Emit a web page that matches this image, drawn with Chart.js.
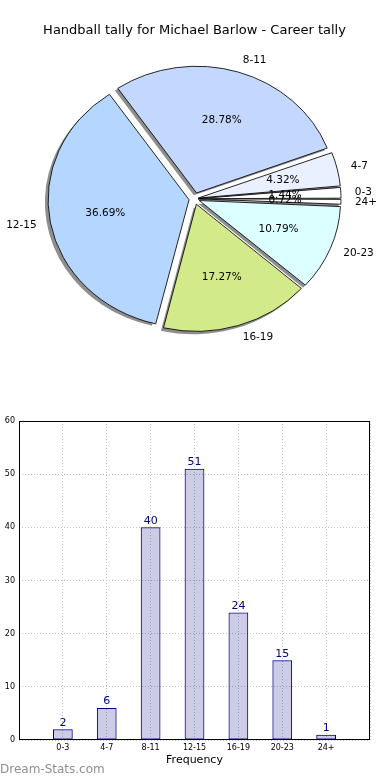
<!DOCTYPE html>
<html lang="en">
<head>
<meta charset="UTF-8">
<title>Handball tally for Michael Barlow</title>
<script src="https://cdn.jsdelivr.net/npm/chart.js@4.4.0/dist/chart.umd.min.js"></script>
<style>
  body { margin: 0; background: #fff; }
  .wrap { position: relative; width: 390px; height: 780px; }
  #pieChart { position: absolute; left: 0; top: 0; }
  #barChart { position: absolute; left: 0; top: 400px; }
</style>
</head>
<body>
<div class="wrap">
  <canvas id="pieChart" width="390" height="400"></canvas>
  <canvas id="barChart" width="390" height="380"></canvas>
</div>
<script>
const categories = ['0-3', '4-7', '8-11', '12-15', '16-19', '20-23', '24+'];
const tally = [2, 6, 40, 51, 24, 15, 1];
const yTicks = [0, 10, 20, 30, 40, 50, 60];

const pieColors = ['#ffffff', '#e9f0ff', '#c4d8ff', '#b5d7ff', '#d2ea8a', '#dcffff', '#ffffff'];

Chart.defaults.font.family = '"DejaVu Sans"';
Chart.defaults.color = '#000';

const total = tally.reduce((a, b) => a + b, 0);
// chart.js goes clockwise, the original goes anti-clockwise from 3 o'clock
const pieLabels = categories.slice().reverse();
const pieValues = tally.slice().reverse();
const pieFill = pieColors.slice().reverse();

const EXPLODE = 6.3;    // px, before the horizontal stretch
const STRETCH = 1.103;  // original pie is a bit wider than tall
const PIE_R = 126.5;

function stretchAround(ctx, x, y) {
  ctx.translate(x, y);
  ctx.scale(STRETCH, 1);
  ctx.translate(-x, -y);
}

const pieExtras = {
  id: 'pieExtras',
  beforeDatasetsDraw(chart) {
    const ctx = chart.ctx;
    const arcs = chart.getDatasetMeta(0).data;
    // drop shadows first, all of them under the slices
    ctx.save();
    ctx.translate(-2.8, 2.5);
    stretchAround(ctx, arcs[0].x, arcs[0].y);
    ctx.fillStyle = '#8e8e8e';
    arcs.forEach(arc => {
      const mid = (arc.startAngle + arc.endAngle) / 2;
      const x = arc.x + EXPLODE * Math.cos(mid);
      const y = arc.y + EXPLODE * Math.sin(mid);
      ctx.beginPath();
      ctx.moveTo(x, y);
      ctx.arc(x, y, arc.outerRadius + 0.4, arc.startAngle, arc.endAngle);
      ctx.closePath();
      ctx.fill();
    });
    ctx.restore();
    ctx.save();
    stretchAround(ctx, arcs[0].x, arcs[0].y);
  },
  afterDatasetsDraw(chart) {
    const ctx = chart.ctx;
    ctx.restore();
    const meta = chart.getDatasetMeta(0);
    ctx.save();
    ctx.font = '10.5px "DejaVu Sans"';
    ctx.fillStyle = '#000';
    ctx.textBaseline = 'middle';
    meta.data.forEach((arc, i) => {
      const mid = (arc.startAngle + arc.endAngle) / 2;
      const r = arc.outerRadius;
      const c = Math.cos(mid), s = Math.sin(mid);
      const px = d => arc.x + STRETCH * (EXPLODE + d * r) * c;
      const py = d => arc.y + (EXPLODE + d * r) * s;
      ctx.textAlign = 'center';
      ctx.fillText((pieValues[i] / total * 100).toFixed(2) + '%', px(0.6), py(0.6));
      ctx.textAlign = c > 0 ? 'left' : 'right';
      ctx.fillText(pieLabels[i], px(1.1), py(1.1));
    });
    ctx.restore();
  }
};

new Chart(document.getElementById('pieChart'), {
  type: 'pie',
  data: {
    labels: pieLabels,
    datasets: [{
      data: pieValues,
      backgroundColor: pieFill,
      borderColor: '#000',
      borderWidth: 0.8,
      // arc.draw only moves a slice by offset/4*(2-sin(angle)), undo that
      offset: ctx => {
        const circ = pieValues[ctx.dataIndex] / total * 2 * Math.PI;
        return 4 * EXPLODE / (2 - Math.sin(Math.min(Math.PI, circ)));
      },
      clip: false
    }]
  },
  options: {
    responsive: false,
    animation: false,
    rotation: 90,
    radius: PIE_R,
    layout: { padding: { left: 0, right: 1, top: 0, bottom: 41 } },
    plugins: {
      legend: { display: false },
      tooltip: { enabled: false },
      title: {
        display: true,
        text: 'Handball tally for Michael Barlow - Career tally',
        color: '#000',
        font: { size: 13, weight: 'normal' },
        padding: { top: 23, bottom: 0 }
      }
    }
  },
  plugins: [pieExtras]
});

const barExtras = {
  id: 'barExtras',
  afterDatasetsDraw(chart) {
    const ctx = chart.ctx;
    const meta = chart.getDatasetMeta(0);
    const data = chart.data.datasets[0].data;
    ctx.save();
    ctx.font = '11px "DejaVu Sans"';
    ctx.fillStyle = '#000080';
    ctx.textAlign = 'center';
    ctx.textBaseline = 'bottom';
    meta.data.forEach((bar, i) => {
      if (data[i] == null) return;
      ctx.fillText(String(data[i]), bar.x, bar.y - 1);
    });
    ctx.restore();
  },
  afterDraw(chart) {
    const ctx = chart.ctx;
    const a = chart.chartArea;
    ctx.save();
    ctx.strokeStyle = '#000';
    ctx.lineWidth = 1;
    ctx.strokeRect(a.left + 0.5, a.top + 0.5, a.right - a.left - 1, a.bottom - a.top - 1);
    ctx.fillStyle = '#000';
    ctx.font = '11px "DejaVu Sans"';
    ctx.textAlign = 'center';
    ctx.textBaseline = 'middle';
    ctx.fillText('Frequency', (a.left + a.right) / 2, 360);
    ctx.fillStyle = '#8f8f8f';
    ctx.font = '12px "DejaVu Sans"';
    ctx.textAlign = 'left';
    ctx.fillText('Dream-Stats.com', 0, 370);
    ctx.restore();
  }
};

const gridStyle = { color: '#c4c4c4', lineWidth: 1, drawTicks: false };

new Chart(document.getElementById('barChart'), {
  type: 'bar',
  data: {
    // one empty slot each side, like the original x range
    labels: ['', ...categories, ''],
    datasets: [{
      data: [null, ...tally, null],
      backgroundColor: 'rgba(0,0,128,0.2)',
      borderColor: '#000080',
      borderWidth: 1,
      borderSkipped: false,
      barPercentage: 0.45,
      categoryPercentage: 1
    }]
  },
  options: {
    responsive: false,
    animation: false,
    layout: { padding: { left: 0, right: 20, top: 21, bottom: 0 } },
    plugins: {
      legend: { display: false },
      tooltip: { enabled: false }
    },
    scales: {
      x: {
        offset: false,
        grid: Object.assign({ offset: false }, gridStyle),
        border: { display: false, dash: [1, 2] },
        ticks: { font: { size: 8 }, color: '#000', padding: 3, autoSkip: false, maxRotation: 0 },
        afterFit: s => { s.height = 40; }
      },
      y: {
        min: yTicks[0],
        max: yTicks[yTicks.length - 1],
        grid: gridStyle,
        border: { display: false, dash: [1, 2] },
        ticks: { stepSize: yTicks[1] - yTicks[0], font: { size: 8 }, color: '#000', padding: 4 },
        afterFit: s => { s.width = 19; }
      }
    }
  },
  plugins: [barExtras]
});
</script>
</body>
</html>
